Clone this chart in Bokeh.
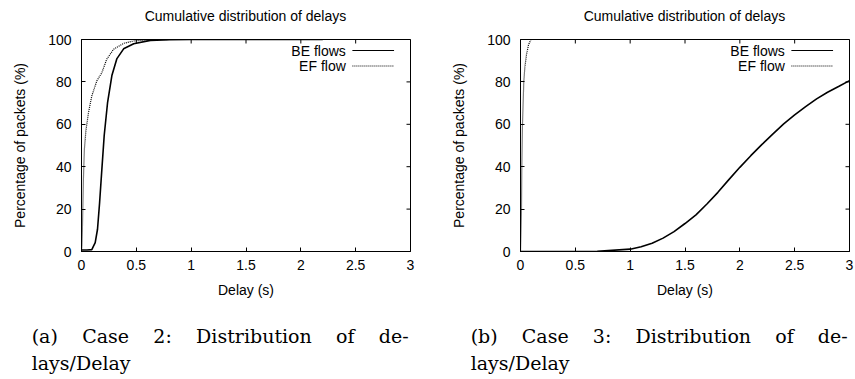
import math
from bokeh.plotting import figure
from bokeh.models import Range1d, FixedTicker, NumeralTickFormatter, Label, Div
from bokeh.layouts import row, column
from bokeh.embed import file_html
from bokeh.resources import INLINE

# ---------------- data ----------------
title_text = "Cumulative distribution of delays"
x_label = "Delay (s)"
y_label = "Percentage of packets (%)"
legend_labels = ["BE flows", "EF flow"]
x_ticks = [0, 0.5, 1, 1.5, 2, 2.5, 3]
y_ticks = [0, 20, 40, 60, 80, 100]

# Case 2
case2_be_delay = [0, 0.05, 0.094, 0.125, 0.146, 0.165, 0.186, 0.207, 0.238, 0.277,
                  0.323, 0.384, 0.476, 0.628, 0.8, 1.0, 2.2]
case2_be_pct = [0.7, 0.7, 0.9, 4.2, 10.5, 23, 39, 54.7, 70.4, 83,
                91, 95.6, 98, 99.6, 99.9, 100, 100]
case2_ef_delay = [0, 0.004, 0.008, 0.012, 0.018, 0.026, 0.04, 0.064, 0.094, 0.14,
                  0.186, 0.23, 0.293, 0.384, 0.476, 0.6, 0.8, 1.0]
case2_ef_pct = [0, 3, 10, 20, 35, 48, 57, 65.6, 73.4, 80.5,
                84.4, 90.7, 95.4, 98.2, 99.3, 99.8, 100, 100]

# Case 3
case3_be_delay = [0, 0.7, 1.0, 1.1, 1.2, 1.3, 1.4, 1.5, 1.6, 1.7, 1.8, 1.9, 2.0,
                  2.1, 2.2, 2.3, 2.4, 2.5, 2.6, 2.7, 2.8, 2.9, 3.0]
case3_be_pct = [0, 0.1, 1.1, 2.2, 3.9, 6.3, 9.4, 13.2, 17.3, 22.4, 27.9, 33.9, 39.7,
                45.2, 50.4, 55.4, 60.2, 64.4, 68.3, 72, 75.1, 77.8, 80.6]
case3_ef_delay = [0, 0.004, 0.009, 0.012, 0.018, 0.03, 0.04, 0.055, 0.073, 0.095, 0.3]
case3_ef_pct = [0, 8, 20, 40, 60, 80, 87, 93, 97.5, 100, 100]

caption_a = ["(a) Case 2: Distribution of de-", "lays/Delay"]
caption_b = ["(b) Case 3: Distribution of de-", "lays/Delay"]

# ---------------- style ----------------
SANS = "Liberation Sans"
SERIF = "DejaVu Serif"
FS = "14px"
FRAME_W = 329


def make_panel(be_x, be_y, ef_x, ef_y, width, left, right):
    p = figure(width=width, height=277, x_range=Range1d(0, 3), y_range=Range1d(0, 100),
               output_backend="svg", toolbar_location=None, title_location=None,
               min_border_left=left, min_border_right=right,
               min_border_top=11, min_border_bottom=54,
               x_axis_label=x_label, y_axis_label=y_label)
    p.grid.visible = False
    p.outline_line_color = "black"
    p.outline_line_alpha = 1
    p.background_fill_color = "white"
    p.border_fill_color = "white"

    for ax, ticks in ((p.xaxis[0], x_ticks), (p.yaxis[0], y_ticks)):
        ax.ticker = FixedTicker(ticks=ticks)
        ax.formatter = NumeralTickFormatter(format="0.[0]")
        ax.major_tick_in = 4
        ax.major_tick_out = 0
        ax.minor_tick_in = 0
        ax.minor_tick_out = 0
        ax.major_tick_line_color = "black"
        ax.axis_line_color = "black"
        ax.major_label_text_font = SANS
        ax.major_label_text_font_size = FS
        ax.major_label_text_color = "black"
        ax.axis_label_text_font = SANS
        ax.axis_label_text_font_size = FS
        ax.axis_label_text_font_style = "normal"
        ax.axis_label_text_color = "black"
    p.xaxis[0].major_label_standoff = 8
    p.xaxis[0].axis_label_standoff = 9
    p.yaxis[0].major_label_standoff = 10
    p.yaxis[0].axis_label_standoff = 17

    # mirrored (gnuplot) tick marks on top and right borders, clipped to the frame
    p.scatter(x_ticks, [100] * len(x_ticks), marker="dash", size=8,
              angle=math.pi / 2, line_color="black", line_width=1)
    p.scatter([3] * len(y_ticks), y_ticks, marker="dash", size=8,
              line_color="black", line_width=1)

    p.line(be_x, be_y, line_color="black", line_width=1.6)
    p.line(ef_x, ef_y, line_color="black", line_width=1.2, line_dash="1 1")

    # gnuplot-style key: text right-aligned, sample to its right
    for i, lab in enumerate(legend_labels):
        yy = 94.8 - 7.3 * i
        p.add_layout(Label(x=2.41, y=yy, text=lab, text_align="right",
                           text_baseline="middle", text_font=SANS,
                           text_font_size=FS, text_color="black"))
        if i == 0:
            p.line([2.47, 2.85], [yy, yy], line_color="black", line_width=1.2)
        else:
            p.line([2.47, 2.85], [yy, yy], line_color="black", line_width=1.0,
                   line_dash="1 1")
    return p


def make_title(width, pad_left):
    html = (
        f'<div style="box-sizing:content-box;margin:0;padding:8px 0 0 {pad_left}px;'
        f"width:{FRAME_W}px;font-family:'{SANS}';font-size:{FS};line-height:16px;"
        f'color:#000;text-align:center;white-space:nowrap;">{title_text}</div>'
    )
    return Div(text=html, width=width, height=28,
               styles={"overflow": "hidden", "margin": "0", "padding": "0"})


def make_caption(lines, width, pad_left):
    html = (
        f'<div style="box-sizing:content-box;margin:0;padding:18px 0 0 {pad_left}px;'
        f"width:377px;font-family:'{SERIF}';font-size:19px;line-height:27px;color:#000;\">"
        f'<div style="text-align:justify;text-align-last:justify;">{lines[0]}</div>'
        f'<div>{lines[1]}</div></div>'
    )
    return Div(text=html, width=width, height=74,
               styles={"overflow": "hidden", "margin": "0", "padding": "0"})


p1 = make_panel(case2_be_delay, case2_be_pct, case2_ef_delay, case2_ef_pct, 428, 81, 18)
p2 = make_panel(case3_be_delay, case3_be_pct, case3_ef_delay, case3_ef_pct, 427, 92, 6)
t1 = make_title(428, 81)
t2 = make_title(427, 92)
c1 = make_caption(caption_a, 428, 31.7)
c2 = make_caption(caption_b, 427, 42.7)

layout = column(row(t1, t2), row(p1, p2), row(c1, c2))
open("out.html", "w").write(file_html(layout, INLINE))
